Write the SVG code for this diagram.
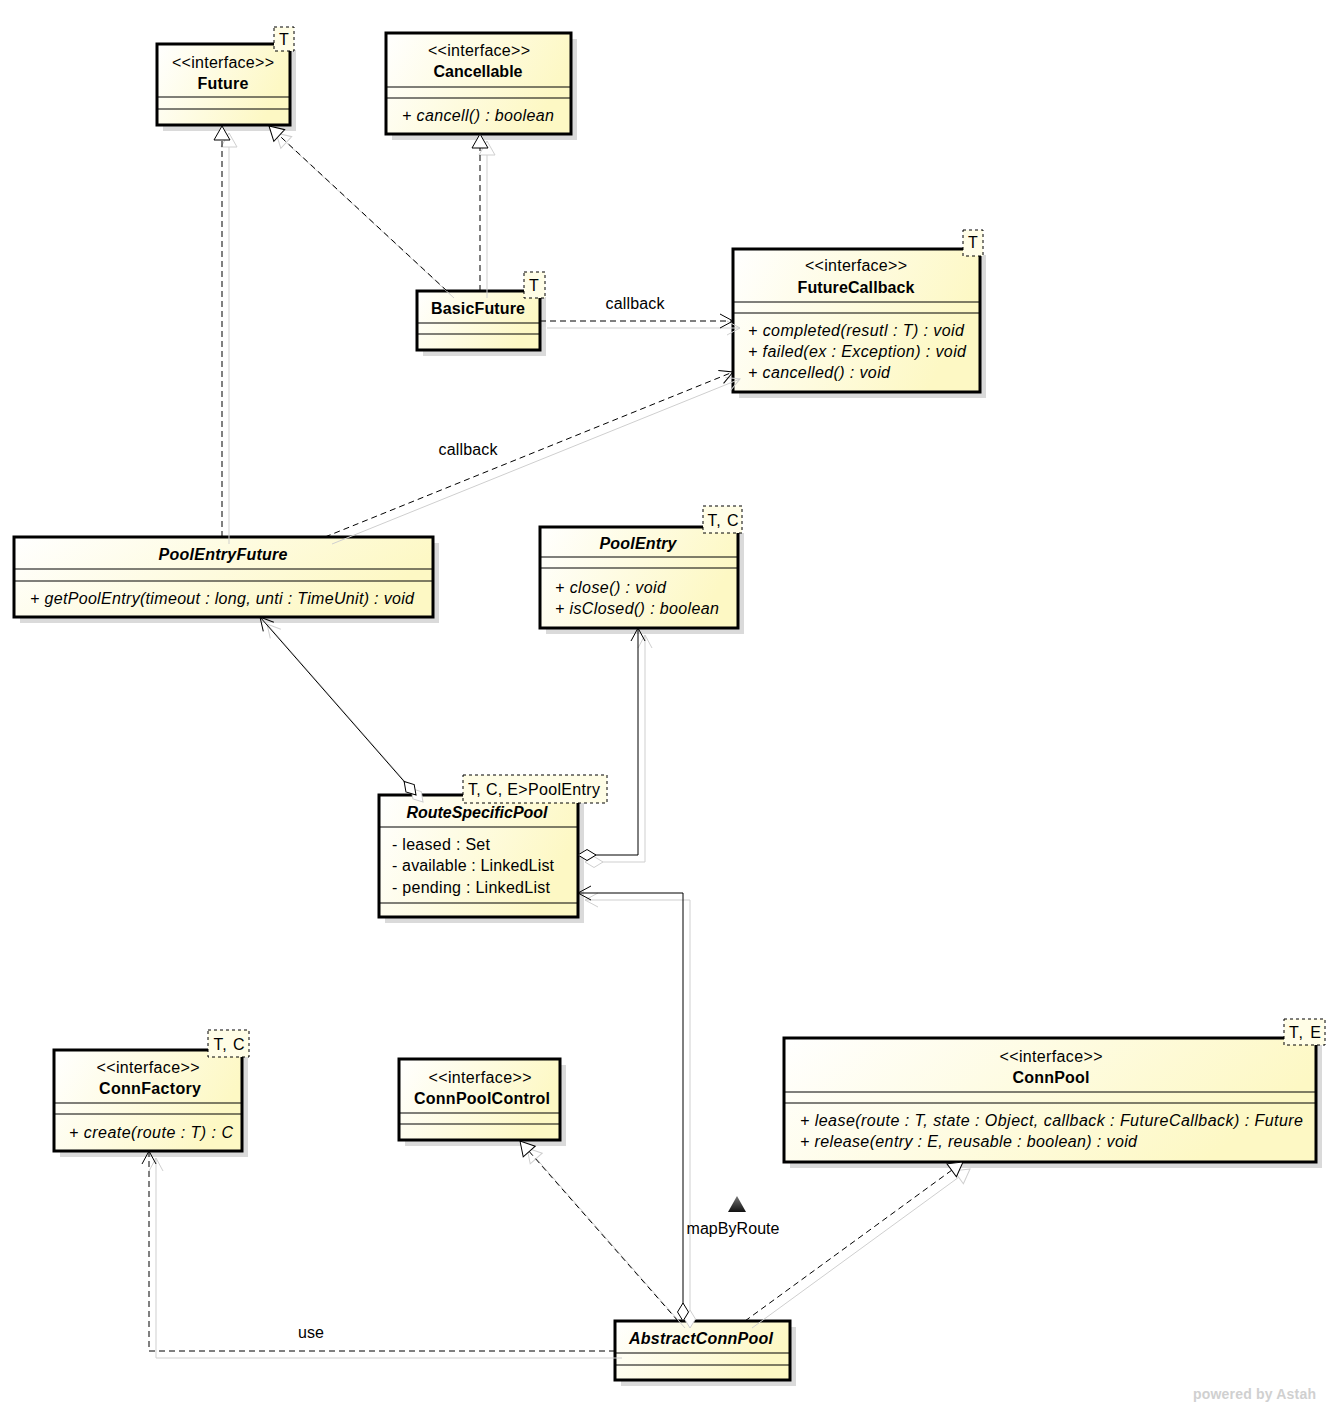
<svg xmlns="http://www.w3.org/2000/svg" width="1338" height="1403" viewBox="0 0 1338 1403">
<defs>
<linearGradient id="g" x1="0" y1="0" x2="1" y2="0.3">
<stop offset="0" stop-color="#ffffff"/>
<stop offset="1" stop-color="#fdf8c4"/>
</linearGradient>
<linearGradient id="tg" x1="0" y1="0" x2="0" y2="1">
<stop offset="0" stop-color="#777"/>
<stop offset="1" stop-color="#111"/>
</linearGradient>
<marker id="tri" markerUnits="userSpaceOnUse" viewBox="-16 -10 18 20" markerWidth="18" markerHeight="20" refX="0" refY="0" orient="auto">
<path d="M0,0 L-14,-8 L-14,8 Z" fill="#fff" stroke="#000" stroke-width="1"/>
</marker>
<marker id="tri-s" markerUnits="userSpaceOnUse" viewBox="-16 -10 18 20" markerWidth="18" markerHeight="20" refX="0" refY="0" orient="auto">
<path d="M0,0 L-14,-8 L-14,8 Z" fill="#fff" stroke="#cfcfcf" stroke-width="1"/>
</marker>
<marker id="open" markerUnits="userSpaceOnUse" viewBox="-16 -10 18 20" markerWidth="18" markerHeight="20" refX="0" refY="0" orient="auto">
<path d="M-13,-7 L0,0 L-13,7" fill="none" stroke="#000" stroke-width="1"/>
</marker>
<marker id="open-s" markerUnits="userSpaceOnUse" viewBox="-16 -10 18 20" markerWidth="18" markerHeight="20" refX="0" refY="0" orient="auto">
<path d="M-13,-7 L0,0 L-13,7" fill="none" stroke="#cfcfcf" stroke-width="1"/>
</marker>
<marker id="dia" markerUnits="userSpaceOnUse" viewBox="-2 -8 22 16" markerWidth="22" markerHeight="16" refX="0" refY="0" orient="auto">
<path d="M0,0 L9,-5.5 L18,0 L9,5.5 Z" fill="#fff" stroke="#000" stroke-width="1"/>
</marker>
<marker id="dia-s" markerUnits="userSpaceOnUse" viewBox="-2 -8 22 16" markerWidth="22" markerHeight="16" refX="0" refY="0" orient="auto">
<path d="M0,0 L9,-5.5 L18,0 L9,5.5 Z" fill="#fff" stroke="#cfcfcf" stroke-width="1"/>
</marker>
</defs>
<style>
.sh{fill:#dadada}
.box{fill:url(#g);stroke:#000;stroke-width:3}
.sep{stroke:#000;stroke-width:1}
.tpl{fill:#fffde6;stroke:#000;stroke-width:1;stroke-dasharray:3,3}
text{font-family:"Liberation Sans",Arial,sans-serif;font-size:16px;fill:#000}
.c{text-anchor:middle}
.b{font-weight:bold}
.i{font-style:italic}
.cs{fill:none;stroke:#cfcfcf;stroke-width:1}
.cd{fill:none;stroke:#000;stroke-width:1;stroke-dasharray:6,4}
.cl{fill:none;stroke:#000;stroke-width:1}
.wm{fill:#d0d0d0;font-weight:bold;font-size:14px}
</style>
<rect width="1338" height="1403" fill="#fff"/>

<g id="Future">
<rect class="sh" x="163" y="50" width="133" height="81"/>
<rect class="box" x="157" y="44" width="133" height="81"/>
<line class="sep" x1="157" y1="97" x2="290" y2="97"/>
<line class="sep" x1="157" y1="109" x2="290" y2="109"/>
<text class="c" x="223" y="68" textLength="102">&lt;&lt;interface&gt;&gt;</text>
<text class="c b" x="223" y="89" textLength="51">Future</text>
<rect class="tpl" x="274" y="27" width="20" height="24"/>
<text class="c" x="284" y="45">T</text>
</g>

<g id="Cancellable">
<rect class="sh" x="392" y="39" width="185" height="101"/>
<rect class="box" x="386" y="33" width="185" height="101"/>
<line class="sep" x1="386" y1="87" x2="571" y2="87"/>
<line class="sep" x1="386" y1="98" x2="571" y2="98"/>
<text class="c" x="479" y="56" textLength="102">&lt;&lt;interface&gt;&gt;</text>
<text class="c b" x="478" y="77" textLength="89">Cancellable</text>
<text class="i" x="402" y="121" textLength="152">+ cancell() : boolean</text>
</g>

<g id="BasicFuture">
<rect class="sh" x="423" y="297" width="123" height="59"/>
<rect class="box" x="417" y="291" width="123" height="59"/>
<line class="sep" x1="417" y1="323" x2="540" y2="323"/>
<line class="sep" x1="417" y1="334" x2="540" y2="334"/>
<text class="c b" x="478" y="314" textLength="94">BasicFuture</text>
<rect class="tpl" x="524" y="272" width="21" height="26"/>
<text class="c" x="534" y="291">T</text>
</g>

<g id="FutureCallback">
<rect class="sh" x="739" y="255" width="247" height="143"/>
<rect class="box" x="733" y="249" width="247" height="143"/>
<line class="sep" x1="733" y1="302" x2="980" y2="302"/>
<line class="sep" x1="733" y1="313" x2="980" y2="313"/>
<text class="c" x="856" y="271" textLength="102">&lt;&lt;interface&gt;&gt;</text>
<text class="c b" x="856" y="293" textLength="117">FutureCallback</text>
<text class="i" x="748" y="336" textLength="216">+ completed(resutl : T) : void</text>
<text class="i" x="748" y="357" textLength="218">+ failed(ex : Exception) : void</text>
<text class="i" x="748" y="378" textLength="142">+ cancelled() : void</text>
<rect class="tpl" x="963" y="230" width="20" height="26"/>
<text class="c" x="973" y="248">T</text>
</g>

<g id="PoolEntryFuture">
<rect class="sh" x="20" y="543" width="419" height="80"/>
<rect class="box" x="14" y="537" width="419" height="80"/>
<line class="sep" x1="14" y1="569" x2="433" y2="569"/>
<line class="sep" x1="14" y1="581" x2="433" y2="581"/>
<text class="c b i" x="223" y="560" textLength="129">PoolEntryFuture</text>
<text class="i" x="30" y="604" textLength="384">+ getPoolEntry(timeout : long, unti : TimeUnit) : void</text>
</g>

<g id="PoolEntry">
<rect class="sh" x="546" y="533" width="198" height="101"/>
<rect class="box" x="540" y="527" width="198" height="101"/>
<line class="sep" x1="540" y1="557" x2="738" y2="557"/>
<line class="sep" x1="540" y1="568" x2="738" y2="568"/>
<text class="c b i" x="638" y="549" textLength="77">PoolEntry</text>
<text class="i" x="555" y="593" textLength="111">+ close() : void</text>
<text class="i" x="555" y="614" textLength="164">+ isClosed() : boolean</text>
<rect class="tpl" x="703" y="506" width="39" height="27"/>
<text class="c" x="723" y="526" textLength="31">T, C</text>
</g>

<g id="RouteSpecificPool">
<rect class="sh" x="385" y="801" width="199" height="122"/>
<rect class="box" x="379" y="795" width="199" height="122"/>
<line class="sep" x1="379" y1="827" x2="578" y2="827"/>
<line class="sep" x1="379" y1="903" x2="578" y2="903"/>
<text class="c b i" x="477" y="818" textLength="141">RouteSpecificPool</text>
<text x="392" y="850" textLength="98">- leased : Set</text>
<text x="392" y="871" textLength="162">- available : LinkedList</text>
<text x="392" y="893" textLength="158">- pending : LinkedList</text>
<rect class="tpl" x="463" y="775" width="144" height="28"/>
<text class="c" x="534" y="795" textLength="132">T, C, E&gt;PoolEntry</text>
</g>

<g id="ConnFactory">
<rect class="sh" x="60" y="1056" width="188" height="101"/>
<rect class="box" x="54" y="1050" width="188" height="101"/>
<line class="sep" x1="54" y1="1103" x2="242" y2="1103"/>
<line class="sep" x1="54" y1="1114" x2="242" y2="1114"/>
<text class="c" x="148" y="1073" textLength="103">&lt;&lt;interface&gt;&gt;</text>
<text class="c b" x="150" y="1094" textLength="102">ConnFactory</text>
<text class="i" x="69" y="1138" textLength="164">+ create(route : T) : C</text>
<rect class="tpl" x="208" y="1030" width="41" height="27"/>
<text class="c" x="229" y="1050" textLength="31">T, C</text>
</g>

<g id="ConnPoolControl">
<rect class="sh" x="405" y="1065" width="161" height="81"/>
<rect class="box" x="399" y="1059" width="161" height="81"/>
<line class="sep" x1="399" y1="1113" x2="560" y2="1113"/>
<line class="sep" x1="399" y1="1124" x2="560" y2="1124"/>
<text class="c" x="480" y="1083" textLength="103">&lt;&lt;interface&gt;&gt;</text>
<text class="c b" x="482" y="1104" textLength="136">ConnPoolControl</text>
</g>

<g id="ConnPool">
<rect class="sh" x="790" y="1044" width="532" height="124"/>
<rect class="box" x="784" y="1038" width="532" height="124"/>
<line class="sep" x1="784" y1="1092" x2="1316" y2="1092"/>
<line class="sep" x1="784" y1="1103" x2="1316" y2="1103"/>
<text class="c" x="1051" y="1062" textLength="103">&lt;&lt;interface&gt;&gt;</text>
<text class="c b" x="1051" y="1083" textLength="77">ConnPool</text>
<text class="i" x="800" y="1126" textLength="503">+ lease(route : T, state : Object, callback : FutureCallback) : Future</text>
<text class="i" x="800" y="1147" textLength="337">+ release(entry : E, reusable : boolean) : void</text>
<rect class="tpl" x="1284" y="1019" width="41" height="26"/>
<text class="c" x="1305" y="1038" textLength="32">T, E</text>
</g>

<g id="AbstractConnPool">
<rect class="sh" x="621" y="1327" width="175" height="59"/>
<rect class="box" x="615" y="1321" width="175" height="59"/>
<line class="sep" x1="615" y1="1353" x2="790" y2="1353"/>
<line class="sep" x1="615" y1="1365" x2="790" y2="1365"/>
<text class="c b i" x="701" y="1344" textLength="144">AbstractConnPool</text>
</g>

<g id="connectors">
<g id="connector-shadows" transform="translate(7,7)">
<path class="cs" d="M222,537 L222,126" marker-end="url(#tri-s)"/>
<path class="cs" d="M447,291 L269,126" marker-end="url(#tri-s)"/>
<path class="cs" d="M480,291 L480,134" marker-end="url(#tri-s)"/>
<path class="cs" d="M540,321 L733,321" marker-end="url(#open-s)"/>
<path class="cs" d="M325,537 L733,372" marker-end="url(#open-s)"/>
<path class="cs" d="M416,795 L260,617" marker-start="url(#dia-s)" marker-end="url(#open-s)"/>
<path class="cs" d="M578,855 L638,855 L638,628" marker-start="url(#dia-s)" marker-end="url(#open-s)"/>
<path class="cs" d="M683,1321 L683,893 L578,893" marker-start="url(#dia-s)" marker-end="url(#open-s)"/>
<path class="cs" d="M678,1321 L520,1141" marker-end="url(#tri-s)"/>
<path class="cs" d="M745,1321 L963,1162" marker-end="url(#tri-s)"/>
<path class="cs" d="M615,1351 L149,1351 L149,1151" marker-end="url(#open-s)"/>
</g>
<path class="cd" d="M222,537 L222,126" marker-end="url(#tri)"/>
<path class="cd" d="M447,291 L269,126" marker-end="url(#tri)"/>
<path class="cd" d="M480,291 L480,134" marker-end="url(#tri)"/>
<path class="cd" d="M540,321 L733,321" marker-end="url(#open)"/>
<path class="cd" d="M325,537 L733,372" marker-end="url(#open)"/>
<path class="cl" d="M416,795 L260,617" marker-start="url(#dia)" marker-end="url(#open)"/>
<path class="cl" d="M578,855 L638,855 L638,628" marker-start="url(#dia)" marker-end="url(#open)"/>
<path class="cl" d="M683,1321 L683,893 L578,893" marker-start="url(#dia)" marker-end="url(#open)"/>
<path class="cd" d="M678,1321 L520,1141" marker-end="url(#tri)"/>
<path class="cd" d="M745,1321 L963,1162" marker-end="url(#tri)"/>
<path class="cd" d="M615,1351 L149,1351 L149,1151" marker-end="url(#open)"/>
<text class="c" x="635" y="309" textLength="59">callback</text>
<text class="c" x="468" y="455" textLength="59">callback</text>
<text class="c" x="311" y="1338" textLength="26">use</text>
<text class="c" x="733" y="1234" textLength="93">mapByRoute</text>
<polygon points="728,1212 737,1196 746,1212" fill="url(#tg)"/>
</g>
<text class="wm" x="1193" y="1399" textLength="123">powered by Astah</text>
</svg>
